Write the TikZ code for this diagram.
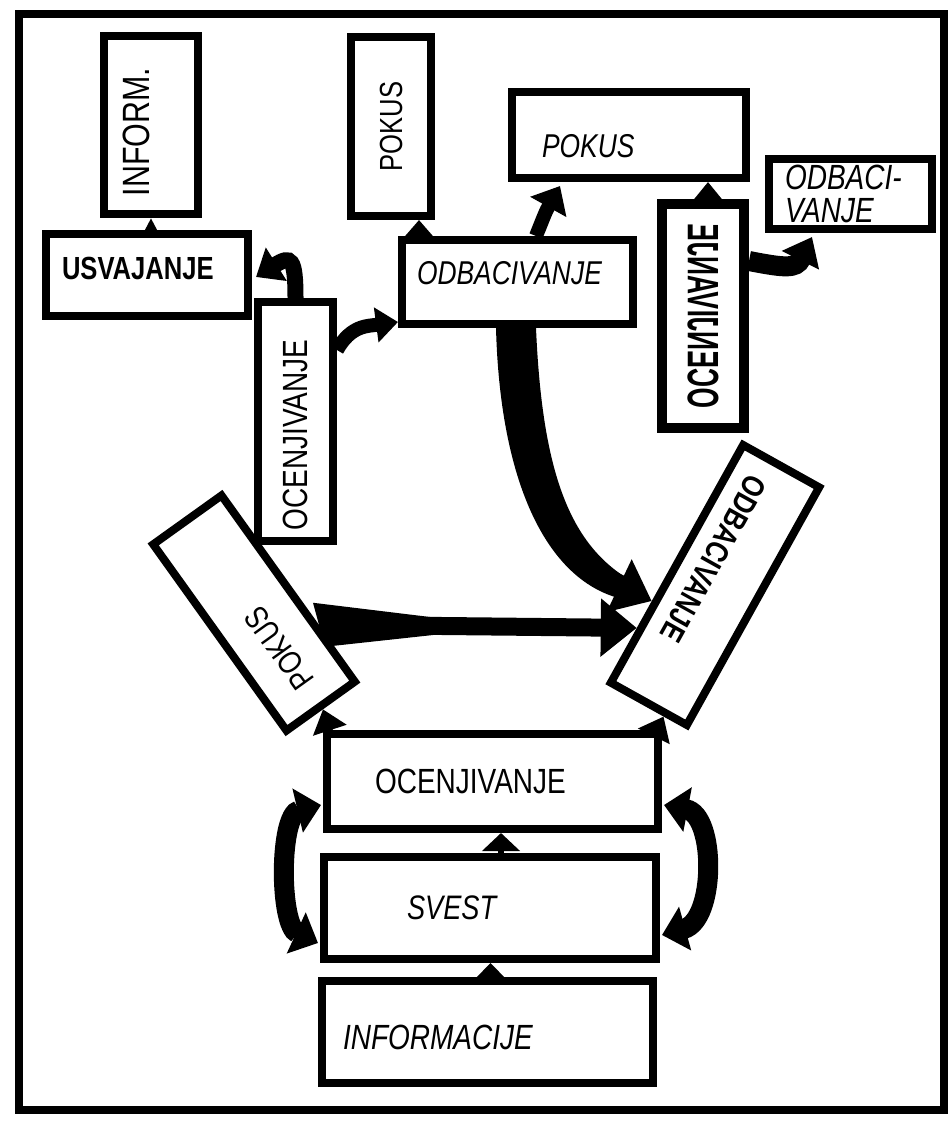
\documentclass[tikz,border=0pt]{standalone}
\usepackage{fontspec}
\usepackage{graphicx}
\usetikzlibrary{arrows.meta,calc}
\newfontfamily\lett[FakeStretch=0.8]{Liberation Sans}
\newcommand\setfs[1]{\fontsize{#1pt}{#1pt}\selectfont}
\newcommand\lowr[2]{\raisebox{-#1}[\height][\depth]{#2}}
\pgfdeclarelayer{bg}
\pgfsetlayers{bg,main}
\begin{document}
\begin{tikzpicture}[x=0.5pt,y=-0.5pt,
  box/.style={draw, fill=white, line width=4pt, inner sep=2pt, font=\lett},
  hbox/.style n args={4}{box, minimum width=#1, minimum height=#2, inner xsep=#3, text width=#4, align=left},
  vbox/.style n args={2}{box, minimum width=#1, minimum height=#2},
  tri/.style={line width=3pt, -{Triangle[length=9pt,width=#1]}},
  fat/.style n args={3}{line width=#1, -{Triangle[length=#2,width=#3]}},
  dbl/.style={line width=10pt, {Triangle[length=12pt,width=22pt]}-{Triangle[length=12pt,width=22pt]}}
]
\useasboundingbox (0,0) rectangle (951,1122);
\draw[line width=4pt] (19,14) rectangle (944,1110);

% vertical boxes
\node[hbox={47pt}{89pt}{9.5pt}{28pt}] (inf) at (151,125) {\lowr{3.5pt}{\rotatebox{90}{\setfs{19}INFORM.}}};
\node[vbox={40pt}{89.5pt}] (pkv) at (391,126.5) {\rotatebox{90}{\setfs{16}POKUS}};
\node[vbox={37.5pt}{119.5pt}] (ocl) at (295.5,421.5) {\lowr{6.75pt}{\rotatebox{90}{\setfs{17.5}OCENJIVANJE}}};
\node[vbox={41pt}{112pt}, line width=5pt] (ocr) at (703,316) {\rotatebox{90}{\scalebox{0.75}[-1]{\setfs{22}\bfseries OCENJIVANJE}}};

% horizontal boxes
\node[hbox={101pt}{41pt}{8pt}{85pt}] (usv) at (147,275) {\setfs{16}\bfseries\raisebox{3.5pt}[\height][\depth]{USVAJANJE}};
\node[hbox={115.5pt}{42pt}{7.5pt}{100.5pt}] (odb) at (517.5,282) {\setfs{16.5}\itshape\raisebox{4.5pt}[\height][\depth]{ODBACIVANJE}};
\node[hbox={117pt}{43pt}{15pt}{87pt}] (pkr) at (629,135) {\setfs{16.5}\itshape\lowr{5.5pt}{POKUS}};
\node[hbox={81.5pt}{35pt}{8pt}{65.5pt}] (odbr) at (850.5,194) {\setfs{17.5}\itshape ODBACI-\\[3pt]VANJE};
\node[hbox={165.5pt}{47.5pt}{24pt}{117.5pt}] (ocb) at (492.5,781.5) {\setfs{17.5}OCENJIVANJE};
\node[hbox={166pt}{51pt}{41.5pt}{83pt}] (sv) at (490,908) {\setfs{17}\itshape SVEST};
\node[hbox={165.5pt}{51pt}{10.5pt}{144.5pt}] (info) at (487.5,1032) {\setfs{17.5}\itshape\lowr{2.5pt}{INFORMACIJE}};

% tilted boxes
\node[box, rotate=125.6, minimum width=114.5pt, minimum height=42pt, inner xsep=12.5pt, text width=89.5pt, align=left] (pkt) at (254,613) {\setfs{16.5}POKUS};
\node[box, rotate=-119.1, minimum width=136pt, minimum height=43.5pt, inner xsep=10.75pt, text width=114.5pt, align=left] (odr) at (715,585) {\setfs{16}\bfseries\lowr{7pt}{ODBACIVANJE}};

\coordinate (pa) at ($(pkv.south east)+(-16,0)$);
\coordinate (ra) at ($(ocr.north)+(5,0)$);
\coordinate (sa) at ($(sv.north)+(11,0)$);
\coordinate (ia) at ($(info.north)+(3,0)$);
\coordinate (oe) at ($(odr.south east)!0.7!(odr.north east)$);
\coordinate (odrA) at ($(odr.south west)!0.66!(odr.south east)$);
\coordinate (odrB) at ($(odr.south west)!0.77!(odr.south east)$);
\coordinate (pktA) at ($(pkt.south west)!0.3!(pkt.south east)$);
\coordinate (odbS) at ($(odb.south west)+(118,0)$);

\begin{pgfonlayer}{bg}
% small arrows
\draw[tri=8.5pt] (usv.north -| inf.south) -- (inf.south);
\draw[tri=15pt] (pa |- odb.north) -- (pa);
\draw[tri=14pt] (ra) -- (ra |- pkr.south);
\draw[tri=18.5pt] (sa) -- (sa |- ocb.south);
\draw[tri=17pt] (ia) -- (ia |- sv.south);
\draw[line width=3pt, -{Triangle[length=11pt,width=17pt]}] ($(ocb.north west)+(10,10)$) -- (pkt.west);
\draw[line width=3pt, -{Triangle[length=11pt,width=17pt]}] ($(ocb.north east)+(-10,10)$) -- (oe);
% big arrows
\draw[fat={8pt}{12pt}{19pt}] (ocl.north) .. controls +(0,-40) and +(35,-22) .. ($(usv.east)+(4,2)$);
\draw[fat={7pt}{11pt}{17pt}] ($(ocl.north east)+(0,52)$) .. controls +(14,-25) and +(-30,4) .. ($(odb.south west)+(0,-6)$);
\draw[fat={7pt}{12pt}{20pt}] ($(odb.north west)+(138,0)$) .. controls +(10,-25) .. ($(pkr.south west)+(52,4)$);
\draw[fat={10pt}{13pt}{20pt}] ($(ocr.north east)+(0,62)$) .. controls +(36,7) and +(-16,32) .. ($(odbr.south west)+(47,4)$);
\draw[fat={11pt}{18pt}{28pt}] (odbS) .. controls +(2,150) and +(-95,-45) .. (odrA);
\fill ($(odbS)+(-20,0)$) .. controls (500,480) and (545,575) .. (615,597) -- (625,577) .. controls (568,540) and (542,468) .. ($(odbS)+(20,0)$) -- cycle;
\draw[fat={9pt}{18pt}{28pt}] (pktA) -- (odrB);
\fill ($(pktA)+(-6,-22)$) -- ($(pktA)!0.6!(odrB)$) -- ($(pktA)+(6,22)$) -- cycle;
% double arrows
\draw[dbl] ($(ocb.south west)+(-2,-28)$) .. controls (279,815) and (279,925) .. ($(sv.south west)+(-2,-20)$);
\draw[dbl] ($(ocb.south east)+(2,-28)$) .. controls (716,815) and (716,920) .. ($(sv.south east)+(2,-28)$);
\end{pgfonlayer}
\end{tikzpicture}
\end{document}
